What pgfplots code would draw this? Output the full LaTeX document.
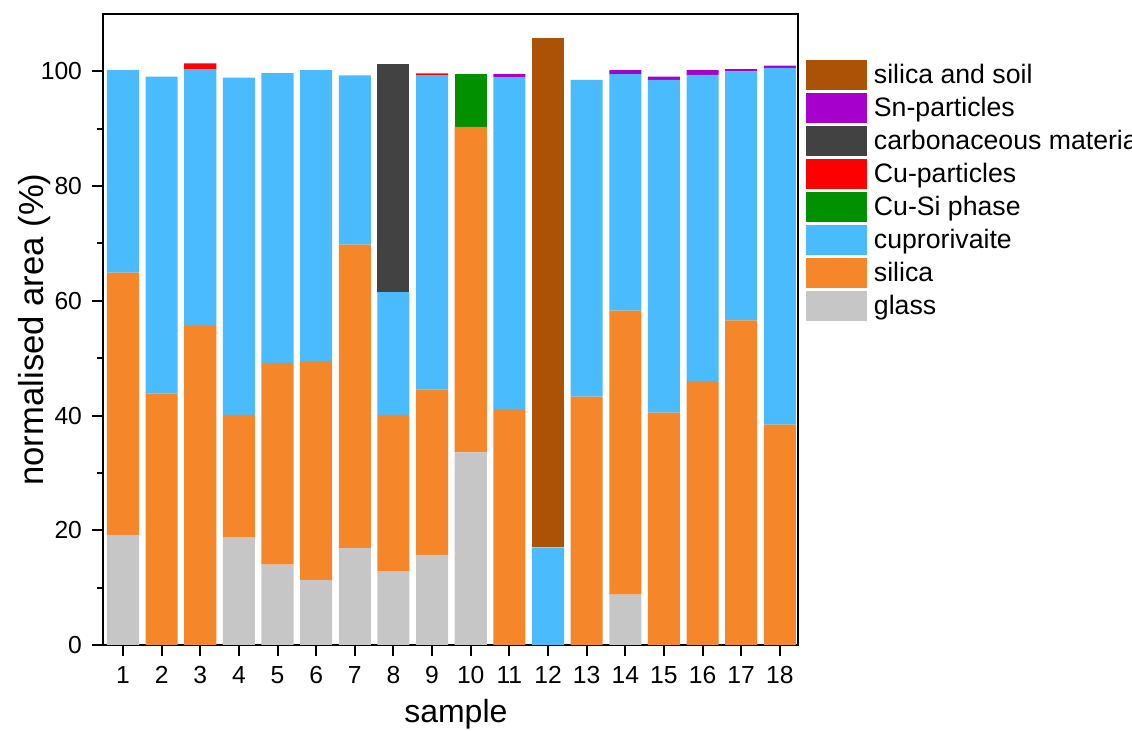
\documentclass[border=0pt]{standalone}
\usepackage{pgfplots}
\pgfplotsset{compat=1.18}
\usepackage{fontspec}
\setmainfont{Liberation Sans}
\definecolor{cglass}{HTML}{C6C6C6}
\definecolor{csilica}{HTML}{F6862A}
\definecolor{ccupro}{HTML}{4ABBFC}
\definecolor{ccusi}{HTML}{009000}
\definecolor{ccup}{HTML}{FF0000}
\definecolor{ccarb}{HTML}{424242}
\definecolor{csn}{HTML}{A500CC}
\definecolor{csoil}{HTML}{AB5207}
\begin{document}
\begin{tikzpicture}
\begin{axis}[
  at={(0,0)}, anchor=south west,
  scale only axis, width=521.25pt, height=473.25pt,
  ybar stacked, bar width=0.83,
  xmin=0.483, xmax=18.47, ymin=0, ymax=110,
  xtick={1,...,18}, ytick={0,20,...,100}, minor ytick={10,30,...,90},
  tick align=outside, xtick pos=bottom, ytick pos=left,
  major tick length=8.25pt, minor tick length=4.5pt,
  axis line style={line width=1.5pt},
  tick style={line width=1.5pt, black},
  ticklabel style={font=\fontsize{18.5}{22}\selectfont},
  yticklabel style={xshift=-4pt},
  xticklabel style={yshift=-4pt},
  /pgf/number format/assume math mode=true,
  xlabel={sample}, ylabel={normalised area (\%)},
  xlabel style={font=\fontsize{24}{28}\selectfont, at={(axis description cs:0.5077,-0.1236)}, anchor=base},
  ylabel style={font=\fontsize{26}{30}\selectfont, at={(axis description cs:-0.0863,0.5)}, rotate=0, anchor=base},
  legend style={draw=none, fill=none, at={(axis description cs:1.0115,0.9271)}, anchor=north west,
    font=\fontsize{20}{24}\selectfont, inner sep=0pt, row sep=2.25pt, cells={anchor=west},
    /tikz/every odd column/.append style={column sep=3pt}},
  legend image code/.code={\fill[#1] (0pt,-11.25pt) rectangle (45.75pt,11.25pt);},
  reverse legend,
]
\addplot[fill=cglass, draw=none] coordinates {(1,19.2)(2,0)(3,0)(4,18.7)(5,14.0)(6,11.3)(7,16.9)(8,12.8)(9,15.7)(10,33.6)(11,0)(12,0)(13,0)(14,8.8)(15,0)(16,0)(17,0)(18,0)};
\addlegendentry{glass}
\addplot[fill=csilica, draw=none] coordinates {(1,45.7)(2,43.8)(3,55.8)(4,21.4)(5,35.2)(6,38.2)(7,52.9)(8,27.3)(9,28.8)(10,56.7)(11,41.1)(12,0)(13,43.3)(14,49.5)(15,40.5)(16,46.0)(17,56.6)(18,38.4)};
\addlegendentry{silica}
\addplot[fill=ccupro, draw=none] coordinates {(1,35.3)(2,55.3)(3,44.6)(4,58.8)(5,50.5)(6,50.7)(7,29.5)(8,21.4)(9,54.8)(10,0)(11,57.9)(12,17.0)(13,55.2)(14,41.2)(15,58.0)(16,53.4)(17,43.4)(18,62.2)};
\addlegendentry{cuprorivaite}
\addplot[fill=ccusi, draw=none] coordinates {(1,0)(2,0)(3,0)(4,0)(5,0)(6,0)(7,0)(8,0)(9,0)(10,9.2)(11,0)(12,0)(13,0)(14,0)(15,0)(16,0)(17,0)(18,0)};
\addlegendentry{Cu-Si phase}
\addplot[fill=ccup, draw=none] coordinates {(1,0)(2,0)(3,1.0)(4,0)(5,0)(6,0)(7,0)(8,0)(9,0.35)(10,0)(11,0)(12,0)(13,0)(14,0)(15,0)(16,0)(17,0)(18,0)};
\addlegendentry{Cu-particles}
\addplot[fill=ccarb, draw=none] coordinates {(1,0)(2,0)(3,0)(4,0)(5,0)(6,0)(7,0)(8,39.8)(9,0)(10,0)(11,0)(12,0)(13,0)(14,0)(15,0)(16,0)(17,0)(18,0)};
\addlegendentry{carbonaceous material}
\addplot[fill=csn, draw=none] coordinates {(1,0)(2,0)(3,0)(4,0)(5,0)(6,0)(7,0)(8,0)(9,0)(10,0)(11,0.5)(12,0)(13,0)(14,0.7)(15,0.6)(16,0.8)(17,0.4)(18,0.4)};
\addlegendentry{Sn-particles}
\addplot[fill=csoil, draw=none] coordinates {(1,0)(2,0)(3,0)(4,0)(5,0)(6,0)(7,0)(8,0)(9,0)(10,0)(11,0)(12,88.8)(13,0)(14,0)(15,0)(16,0)(17,0)(18,0)};
\addlegendentry{silica and soil}
\end{axis}
\pgfresetboundingbox
\useasboundingbox (-77.25pt,-64.5pt) rectangle (771.75pt,483.75pt);
\end{tikzpicture}
\end{document}
